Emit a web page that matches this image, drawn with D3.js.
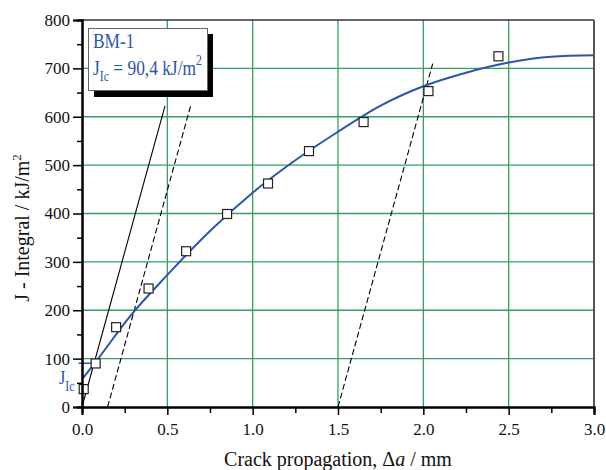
<!DOCTYPE html>
<html>
<head>
<meta charset="utf-8">
<script src="https://cdn.jsdelivr.net/npm/d3@7"></script>
<style>
  body { margin: 0; background: #fff; }
  text { font-family: 'Liberation Serif', 'Times New Roman', serif; }
</style>
</head>
<body>
<div id="chart"></div>
<script>
// measured points
const measuredDa = [0.01, 0.08, 0.2, 0.39, 0.61, 0.85, 1.09, 1.33, 1.65, 2.03, 2.44];
const measuredJ = [37, 90, 165, 245, 322, 399, 462, 529, 589, 653, 725];

// fitted R-curve
const fitDa = [0, 0.08, 0.28, 0.5, 0.75, 1.0, 1.25, 1.5, 1.75, 2.0, 2.25, 2.5, 2.75, 3.0];
const fitJ = [57, 93, 187, 273, 364, 443, 510, 569, 623, 663, 691, 712, 724, 727];

// blunting line and offset lines
const bluntDa = [0, 0.486];
const bluntJ = [0, 622];
const offsetDa1 = [0.15, 0.636];
const offsetJ1 = [0, 622];
const offsetDa2 = [1.5, 2.055];
const offsetJ2 = [0, 710];

const jIc = 90.4;
const jIcDa = [-0.02, 0.11];

const xTicks = [0, 0.5, 1.0, 1.5, 2.0, 2.5, 3.0];
const xMinor = [0.25, 0.75, 1.25, 1.75, 2.25, 2.75];
const yTicks = [0, 100, 200, 300, 400, 500, 600, 700, 800];
const yMinor = [50, 150, 250, 350, 450, 550, 650, 750];

const dim = { width: 606, height: 470, left: 82, right: 594, top: 20, bottom: 407 };
const green = '#35a060';
const blue = '#2d55a8';

const x = d3.scaleLinear().domain([0, 3]).range([dim.left, dim.right]);
const y = d3.scaleLinear().domain([0, 800]).range([dim.bottom, dim.top]);

const svg = d3.select('#chart')
    .append('svg')
        .attr('width', dim.width)
        .attr('height', dim.height);

// grid
svg.append('g')
    .selectAll('line')
    .data(xTicks.slice(1, -1))
    .enter()
    .append('line')
        .attr('x1', d => x(d)).attr('x2', d => x(d))
        .attr('y1', y(0)).attr('y2', y(800))
        .attr('stroke', green)
        .attr('stroke-width', 1.3);

svg.append('g')
    .selectAll('line')
    .data(yTicks.slice(1, -1))
    .enter()
    .append('line')
        .attr('x1', x(0)).attr('x2', x(3))
        .attr('y1', d => y(d)).attr('y2', d => y(d))
        .attr('stroke', green)
        .attr('stroke-width', 1.3);

// frame top and right
svg.append('line')
    .attr('x1', x(0)).attr('x2', x(3))
    .attr('y1', y(800)).attr('y2', y(800))
    .attr('stroke', '#333').attr('stroke-width', 1.5);
svg.append('line')
    .attr('x1', x(3)).attr('x2', x(3))
    .attr('y1', y(800)).attr('y2', y(0))
    .attr('stroke', '#555').attr('stroke-width', 2);

const plotSegment = (da, j, dash) => {
    svg.append('path')
        .datum(da.map((d, i) => [d, j[i]]))
        .attr('fill', 'none')
        .attr('stroke', '#000')
        .attr('stroke-width', 1.1)
        .attr('stroke-dasharray', dash)
        .attr('d', d3.line().x(d => x(d[0])).y(d => y(d[1])));
};

plotSegment(bluntDa, bluntJ, null);
plotSegment(offsetDa1, offsetJ1, '6,3');
plotSegment(offsetDa2, offsetJ2, '6,3');

// R-curve
svg.append('path')
    .datum(fitDa.map((d, i) => [d, fitJ[i]]))
    .attr('fill', 'none')
    .attr('stroke', blue)
    .attr('stroke-width', 2)
    .attr('d', d3.line()
        .x(d => x(d[0]))
        .y(d => y(d[1]))
        .curve(d3.curveMonotoneX));

// J_Ic marker
svg.append('line')
    .attr('x1', x(jIcDa[0])).attr('x2', x(jIcDa[1]))
    .attr('y1', y(jIc)).attr('y2', y(jIc))
    .attr('stroke', blue).attr('stroke-width', 1.5);

// measured squares
svg.append('g')
    .selectAll('rect')
    .data(measuredDa.map((d, i) => [d, measuredJ[i]]))
    .enter()
    .append('rect')
        .attr('x', d => x(d[0]) - 4.5)
        .attr('y', d => y(d[1]) - 4.5)
        .attr('width', 9)
        .attr('height', 9)
        .attr('fill', '#fff')
        .attr('stroke', '#222')
        .attr('stroke-width', 1.2);

// axes
const styleAxis = (g) => {
    g.select('.domain').attr('stroke', '#000').attr('stroke-width', 2);
    g.selectAll('.tick line').attr('stroke', '#000').attr('stroke-width', 1.5);
    g.selectAll('.tick text')
        .attr('font-family', "'Liberation Serif', serif")
        .attr('font-size', '17px')
        .attr('fill', '#111');
};

svg.append('g')
    .attr('transform', `translate(0, ${dim.bottom})`)
    .call(d3.axisBottom(x).tickValues(xMinor).tickSize(6).tickFormat(''))
    .call(styleAxis);
svg.append('g')
    .attr('transform', `translate(0, ${dim.bottom})`)
    .call(d3.axisBottom(x).tickValues(xTicks).tickSize(8).tickPadding(8).tickFormat(d3.format('.1f')))
    .call(styleAxis);

svg.append('g')
    .attr('transform', `translate(${dim.left}, 0)`)
    .call(d3.axisLeft(y).tickValues(yMinor).tickSize(5).tickFormat(''))
    .call(styleAxis);
svg.append('g')
    .attr('transform', `translate(${dim.left}, 0)`)
    .call(d3.axisLeft(y).tickValues(yTicks).tickSize(9).tickPadding(3).tickFormat(d3.format('d')))
    .call(styleAxis);

// J_Ic label on axis
const jLabel = svg.append('g')
    .attr('transform', 'translate(59, 0) scale(0.85, 1)')
    .append('text')
    .attr('x', 0)
    .attr('y', 384)
    .attr('fill', blue)
    .attr('font-size', '19px');
jLabel.append('tspan').text('J');
jLabel.append('tspan').attr('dy', 7).attr('font-size', '14px').text('Ic');

// axis titles
const xTitle = svg.append('text')
    .attr('x', 338)
    .attr('y', 466)
    .attr('text-anchor', 'middle')
    .attr('font-size', '20px')
    .attr('fill', '#111');
xTitle.append('tspan').text('Crack propagation, Δ');
xTitle.append('tspan').attr('font-style', 'italic').text('a');
xTitle.append('tspan').text(' / mm');

const yTitle = svg.append('text')
    .attr('transform', 'translate(29, 228) rotate(-90)')
    .attr('text-anchor', 'middle')
    .attr('font-size', '20px')
    .attr('fill', '#111');
yTitle.append('tspan').text('J - Integral / kJ/m');
yTitle.append('tspan').attr('dy', -8).attr('font-size', '13px').text('2');

// info box
svg.append('rect')
    .attr('x', 94).attr('y', 34)
    .attr('width', 119).attr('height', 63)
    .attr('fill', '#000');
svg.append('rect')
    .attr('x', 88.5).attr('y', 28.5)
    .attr('width', 119).attr('height', 62)
    .attr('fill', '#fff')
    .attr('stroke', '#666')
    .attr('stroke-width', 1);

// the box text is set in a narrow face, so squeeze it horizontally
const boxText = svg.append('g')
    .attr('transform', 'translate(93, 0) scale(0.79, 1)');

boxText.append('text')
    .attr('x', 0)
    .attr('y', 48.5)
    .attr('fill', blue)
    .attr('font-size', '22px')
    .text('BM-1');

const boxJ = boxText.append('text')
    .attr('x', 0)
    .attr('y', 75.5)
    .attr('fill', blue)
    .attr('font-size', '22px');
boxJ.append('tspan').text('J');
boxJ.append('tspan').attr('dy', 6).attr('font-size', '15px').text('Ic');
boxJ.append('tspan').attr('dy', -6).text(' = 90,4 kJ/m');
boxJ.append('tspan').attr('dy', -10).attr('font-size', '15px').text('2');
</script>
</body>
</html>
